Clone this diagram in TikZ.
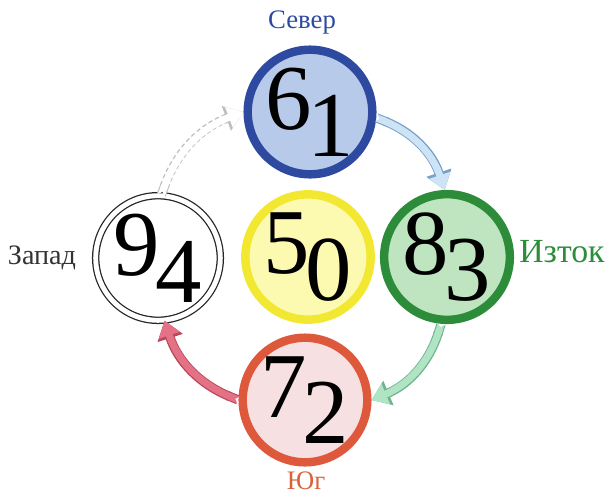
\documentclass[tikz,border=0pt]{standalone}
\usepackage{fontspec}
\setmainfont{Liberation Serif}
\usepackage{xcolor}
\usetikzlibrary{arrows.meta}
\definecolor{severblue}{RGB}{46, 74, 160}
\definecolor{severfill}{RGB}{184, 202, 234}
\definecolor{centeryellow}{RGB}{242, 232, 50}
\definecolor{centerfill}{RGB}{252, 249, 176}
\definecolor{iztokgreen}{RGB}{44, 140, 58}
\definecolor{iztokfill}{RGB}{190, 228, 192}
\definecolor{yugred}{RGB}{222, 88, 60}
\definecolor{yugtext}{RGB}{216, 100, 58}
\definecolor{yugfill}{RGB}{247, 224, 226}
\definecolor{arrowblue}{RGB}{204, 228, 245}
\definecolor{arrowblueline}{RGB}{120, 160, 200}
\definecolor{arrowgreen}{RGB}{176, 228, 196}
\definecolor{arrowgreenline}{RGB}{110, 180, 140}
\definecolor{arrowred}{RGB}{228, 114, 134}
\definecolor{arrowredline}{RGB}{190, 70, 90}

\newcommand{\digitpair}[2]{{\fontsize{66}{66}\selectfont\raisebox{9pt}{#1}\kern-3pt\raisebox{-10pt}{#2}}}

\begin{document}
\begin{tikzpicture}[
  x=0.025cm, y=-0.025cm,
  every node/.style={font=\fontsize{19}{22}\selectfont},
  disc/.style={circle, minimum size=2.9cm, inner sep=0pt, line width=6pt},
  flow/.style 2 args={draw=#1, line width=5pt,
    {Triangle Cap[reversed]}-{Triangle[length=11pt, width=15pt]},
    preaction={draw=#2, line width=6.6pt, {Triangle Cap[reversed]}-{Triangle[length=13pt, width=18pt]}}},
  ghostflow/.style={draw=white, line width=5pt,
    {Triangle Cap[reversed]}-{Triangle[length=11pt, width=15pt]},
    preaction={draw=gray!50, densely dashed, line width=6.6pt, {Triangle Cap[reversed]}-{Triangle[length=13pt, width=18pt]}}}
]
  \useasboundingbox (0,0) rectangle (607,496);

  % Kreise
  \node[disc, draw=severblue, fill=severfill] (N) at (310,112) {\digitpair{6}{1}};
  \node[disc, draw=centeryellow, fill=centerfill] (C) at (308,257) {\digitpair{5}{0}};
  \node[disc, draw=iztokgreen, fill=iztokfill] (E) at (447,257) {\digitpair{8}{3}};
  \node[disc, draw=yugred, fill=yugfill] (S) at (305,400) {\digitpair{7}{2}};
  \node[disc, draw=black!85, line width=0.9pt, double=white, double distance=3.5pt, fill=white] (W) at (158,258) {\digitpair{9}{4}};

  % Beschriftungen
  \node[text=severblue] (sever) at (302,22) {Север};
  \node[text=black!80, font=\fontsize{20}{23}\selectfont] (zapad) at (42,258) {Запад};
  \node[text=iztokgreen, font=\fontsize{24}{27}\selectfont] (iztok) at (562,252) {Изток};
  \node[text=yugtext, inner sep=0pt] (yug) at (306,481) {Юг};

  % Pfeile
  \draw[flow={arrowblue}{arrowblueline}] (N.-5) to[bend left=25] (E.92);
  \draw[flow={arrowgreen}{arrowgreenline}] (E.-95) to[bend left=25] (S.0);
  \draw[flow={arrowred}{arrowredline}] (S.180) to[bend left=25] (W.-84);
  \draw[ghostflow] (W.87) to[bend left=25] (N.180);

\end{tikzpicture}
\end{document}
